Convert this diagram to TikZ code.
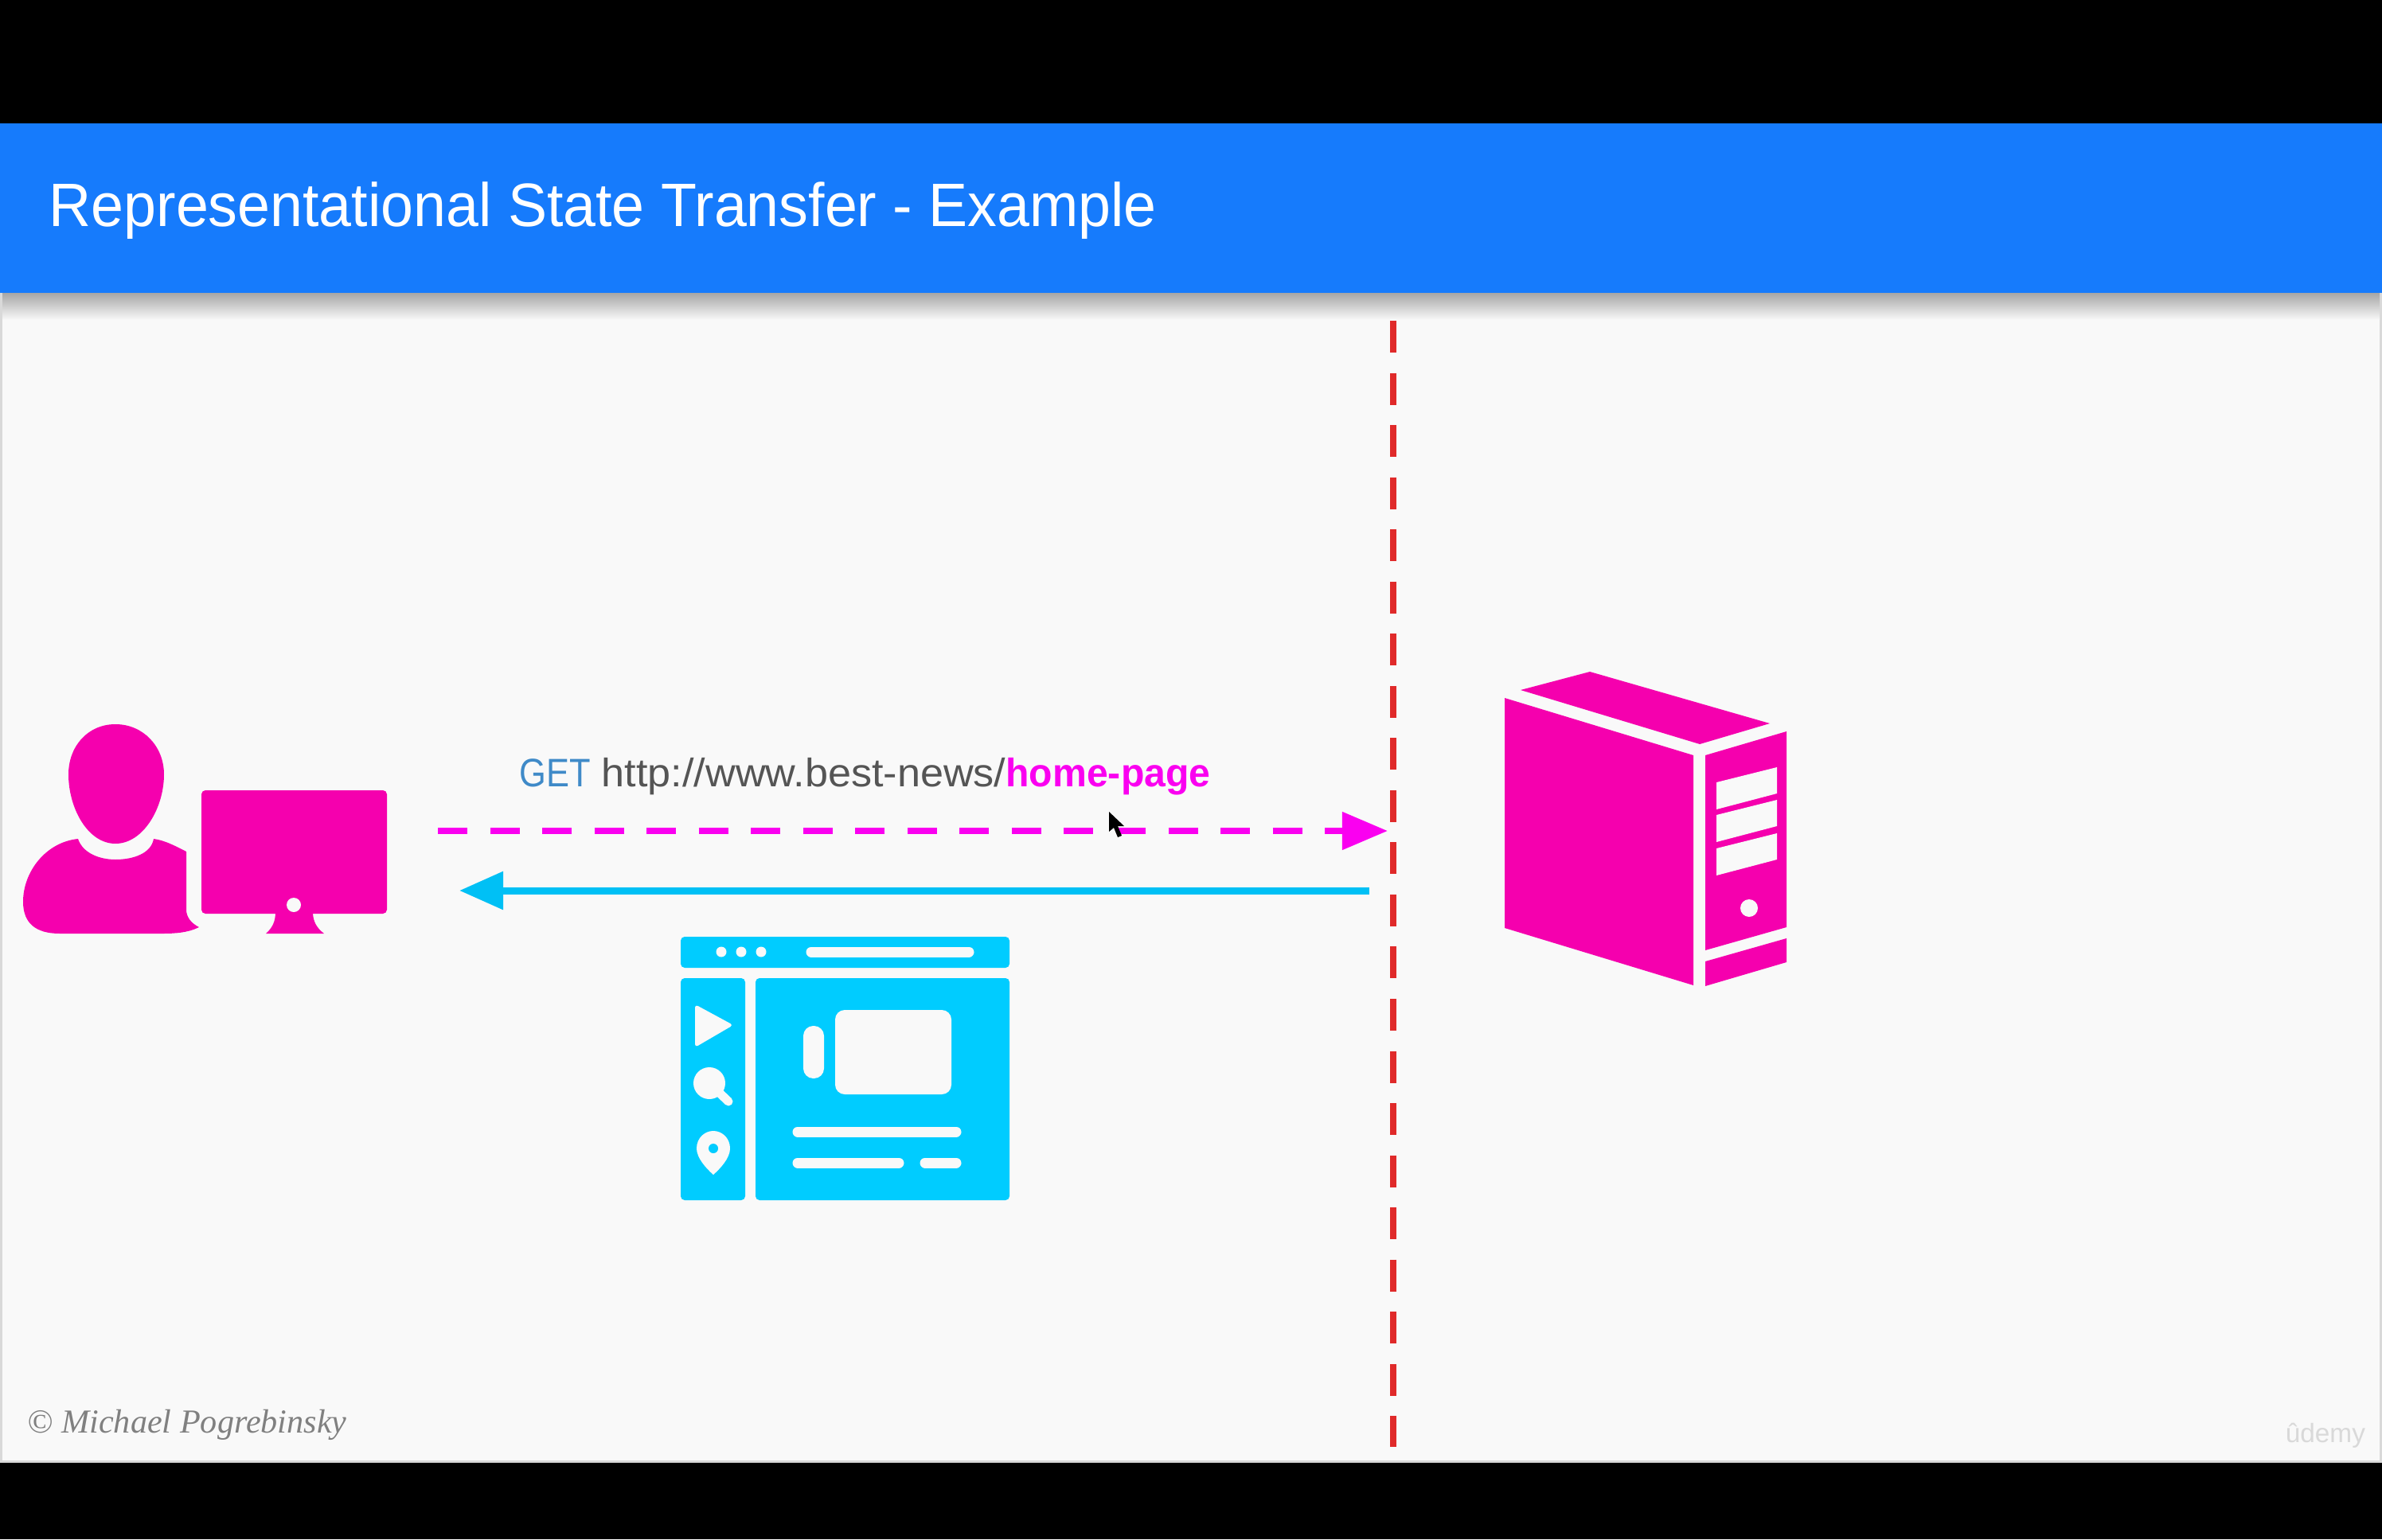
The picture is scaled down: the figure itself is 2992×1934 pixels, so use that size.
\documentclass[tikz,border=0pt]{standalone}
\usepackage{fontspec}
\setmainfont{Liberation Sans}
\newfontfamily\signfont{Liberation Serif}
\newfontfamily\headfont[FakeStretch=.955]{Liberation Sans}
\newfontfamily\getfont[FakeStretch=.87]{Liberation Sans}
\newfontfamily\urlfont[FakeStretch=1.045]{Liberation Sans}
\newfontfamily\pagefont[FakeStretch=.965]{Liberation Sans}
\usepackage{xcolor}
\usetikzlibrary{arrows.meta}
\definecolor{barblue}{HTML}{167BFC}
\definecolor{paper}{HTML}{F9F9F9}
\definecolor{iconpink}{HTML}{F500AE}
\definecolor{reqpink}{HTML}{FA00F0}
\definecolor{iconcyan}{HTML}{00CCFF}
\definecolor{backcyan}{HTML}{00C0F5}
\definecolor{divred}{HTML}{E02A2A}
\definecolor{getblue}{HTML}{3F8AC8}
\definecolor{urlgray}{HTML}{555555}
\tikzstyle{usericon}=[fill=iconpink]
\tikzstyle{pageicon}=[fill=iconcyan]
\tikzstyle{cutout}=[fill=paper]
\tikzstyle{pagerule}=[draw=paper, line width=.13cm, line cap=round]
\tikzstyle{request}=[draw=reqpink, line width=.08cm, dash pattern=on .37cm off .285cm, -{Triangle[length=.57cm,width=.46cm]}]
\tikzstyle{response}=[draw=backcyan, line width=.09cm, -{Triangle[length=.55cm,width=.46cm]}]
\tikzstyle{divider}=[draw=divred, line width=.08cm, dash pattern=on .4cm off .255cm]
\tikzstyle{plaintext}=[inner sep=0pt, anchor=base west]
\newcommand{\slotBox}[2]{
	\fill[cutout] (2156,#1) -- (2232,#2) -- (2232,#2+33) -- (2156,#1+34) -- cycle;
}

\begin{document}
\begin{tikzpicture}[x=.01cm, y=-.01cm]
	\useasboundingbox (0,0) rectangle (2992,1934);
	\fill[black] (0,0) rectangle (2992,1934);
	\fill[gray!30] (0,155) rectangle (2992,1838);
	\fill[paper] (3,155) rectangle (2989,1835);
	\shade[top color=gray!70, bottom color=paper] (3,368) rectangle (2989,402);
	\fill[barblue] (0,155) rectangle (2992,368);
	\node[plaintext, text=white] (title) at (61,285) {\fontsize{21.9pt}{26pt}\selectfont\headfont Representational State Transfer - Example};

	% user and monitor
	\fill[usericon] (145,910) .. controls (180,910) and (206,938) .. (206,973) .. controls (206,1015) and (180,1060) .. (145,1060) .. controls (110,1060) and (86,1015) .. (86,973) .. controls (86,938) and (110,910) .. (145,910);
	\fill[usericon] (98,1054) .. controls (104,1072) and (125,1080) .. (145,1080) .. controls (168,1080) and (190,1072) .. (193,1054) .. controls (208,1056) and (222,1064) .. (234,1070) -- (234,1143) .. controls (234,1152) and (240,1160) .. (250,1165) .. controls (236,1172) and (220,1173) .. (204,1173) -- (75,1173) .. controls (45,1173) and (29,1160) .. (29,1133) .. controls (29,1095) and (58,1058) .. (98,1054) -- cycle;
	\fill[usericon, rounded corners=.05cm] (253,993) rectangle (486,1148);
	\fill[usericon] (346,1146) .. controls (346,1158) and (342,1166) .. (334,1173) -- (407,1173) .. controls (398,1166) and (393,1158) .. (393,1146) -- cycle;
	\fill[cutout] (369,1137) circle (9);

	% server
	\fill[usericon] (1910,867) -- (1997,844) -- (2223,909) -- (2135,935) -- cycle;
	\fill[usericon] (1890,877) -- (2127,949) -- (2127,1238) -- (1890,1166) -- cycle;
	\fill[usericon] (2142,949) -- (2244,919) -- (2244,1165) -- (2142,1194) -- cycle;
	\fill[usericon] (2142,1208) -- (2244,1179) -- (2244,1209) -- (2142,1239) -- cycle;
	\slotBox{983}{964}
	\slotBox{1024}{1005}
	\slotBox{1066}{1047}
	\fill[cutout] (2197,1141) circle (11);

	% web page
	\fill[pageicon, rounded corners=.05cm] (855,1177) rectangle (1268,1216);
	\fill[pageicon, rounded corners=.05cm] (855,1229) rectangle (936,1508);
	\fill[pageicon, rounded corners=.05cm] (949,1229) rectangle (1268,1508);
	\foreach \dotx in {906,931,956}
		\fill[cutout] (\dotx,1196) circle (6.5);
	\draw[pagerule] (1019,1196) -- (1217,1196);
	\fill[cutout, rounded corners=.04cm] (873,1262) -- (921,1288) -- (873,1316) -- cycle;
	\fill[cutout] (891,1361) circle (20);
	\draw[draw=paper, line width=.11cm, line cap=round] (891,1361) -- (915,1384);
	\fill[cutout] (875,1443) .. controls (875,1430) and (885,1421) .. (896,1421) .. controls (907,1421) and (917,1430) .. (917,1443) .. controls (917,1455) and (905,1468) .. (896,1476) .. controls (887,1468) and (875,1455) .. (875,1443);
	\fill[pageicon] (896,1443) circle (6);
	\fill[cutout, rounded corners=.125cm] (1009,1289) rectangle (1035,1355);
	\fill[cutout, rounded corners=.12cm] (1049,1269) rectangle (1195,1375);
	\draw[pagerule] (1002,1422) -- (1201,1422);
	\draw[pagerule] (1002,1461) -- (1129,1461);
	\draw[pagerule] (1162,1461) -- (1201,1461);

	% request, response and the line between client and server
	\coordinate (clientOut) at (550,1044);
	\coordinate (serverIn) at (1743,1044);
	\coordinate (serverOut) at (1720,1119);
	\coordinate (clientIn) at (577,1119);
	\coordinate (dividerTop) at (1750,403);
	\coordinate (dividerBottom) at (1750,1818);
	\draw[divider] (dividerTop) -- (dividerBottom);
	\draw[request] (clientOut) -- (serverIn);
	\draw[response] (serverOut) -- (clientIn);
	\node[plaintext] (getLabel) at (652,988) {\fontsize{14.2pt}{17pt}\selectfont\textcolor{getblue}{\getfont GET} \textcolor{urlgray}{\urlfont http://www.best-news/}\textcolor{reqpink}{\pagefont\bfseries home-page}};

	% mouse pointer
	\fill[black] (1393,1020) -- (1393,1045) -- (1399,1040) -- (1404,1052) -- (1409,1050) -- (1404,1038) -- (1412,1038) -- cycle;

	\node[plaintext, text=gray] (credit) at (34,1800) {\fontsize{12pt}{14pt}\selectfont\signfont\itshape © Michael Pogrebinsky};
	\node[plaintext, text=gray!30] (watermark) at (2870,1812) {\fontsize{9.5pt}{11pt}\selectfont ûdemy};
\end{tikzpicture}
\end{document}
